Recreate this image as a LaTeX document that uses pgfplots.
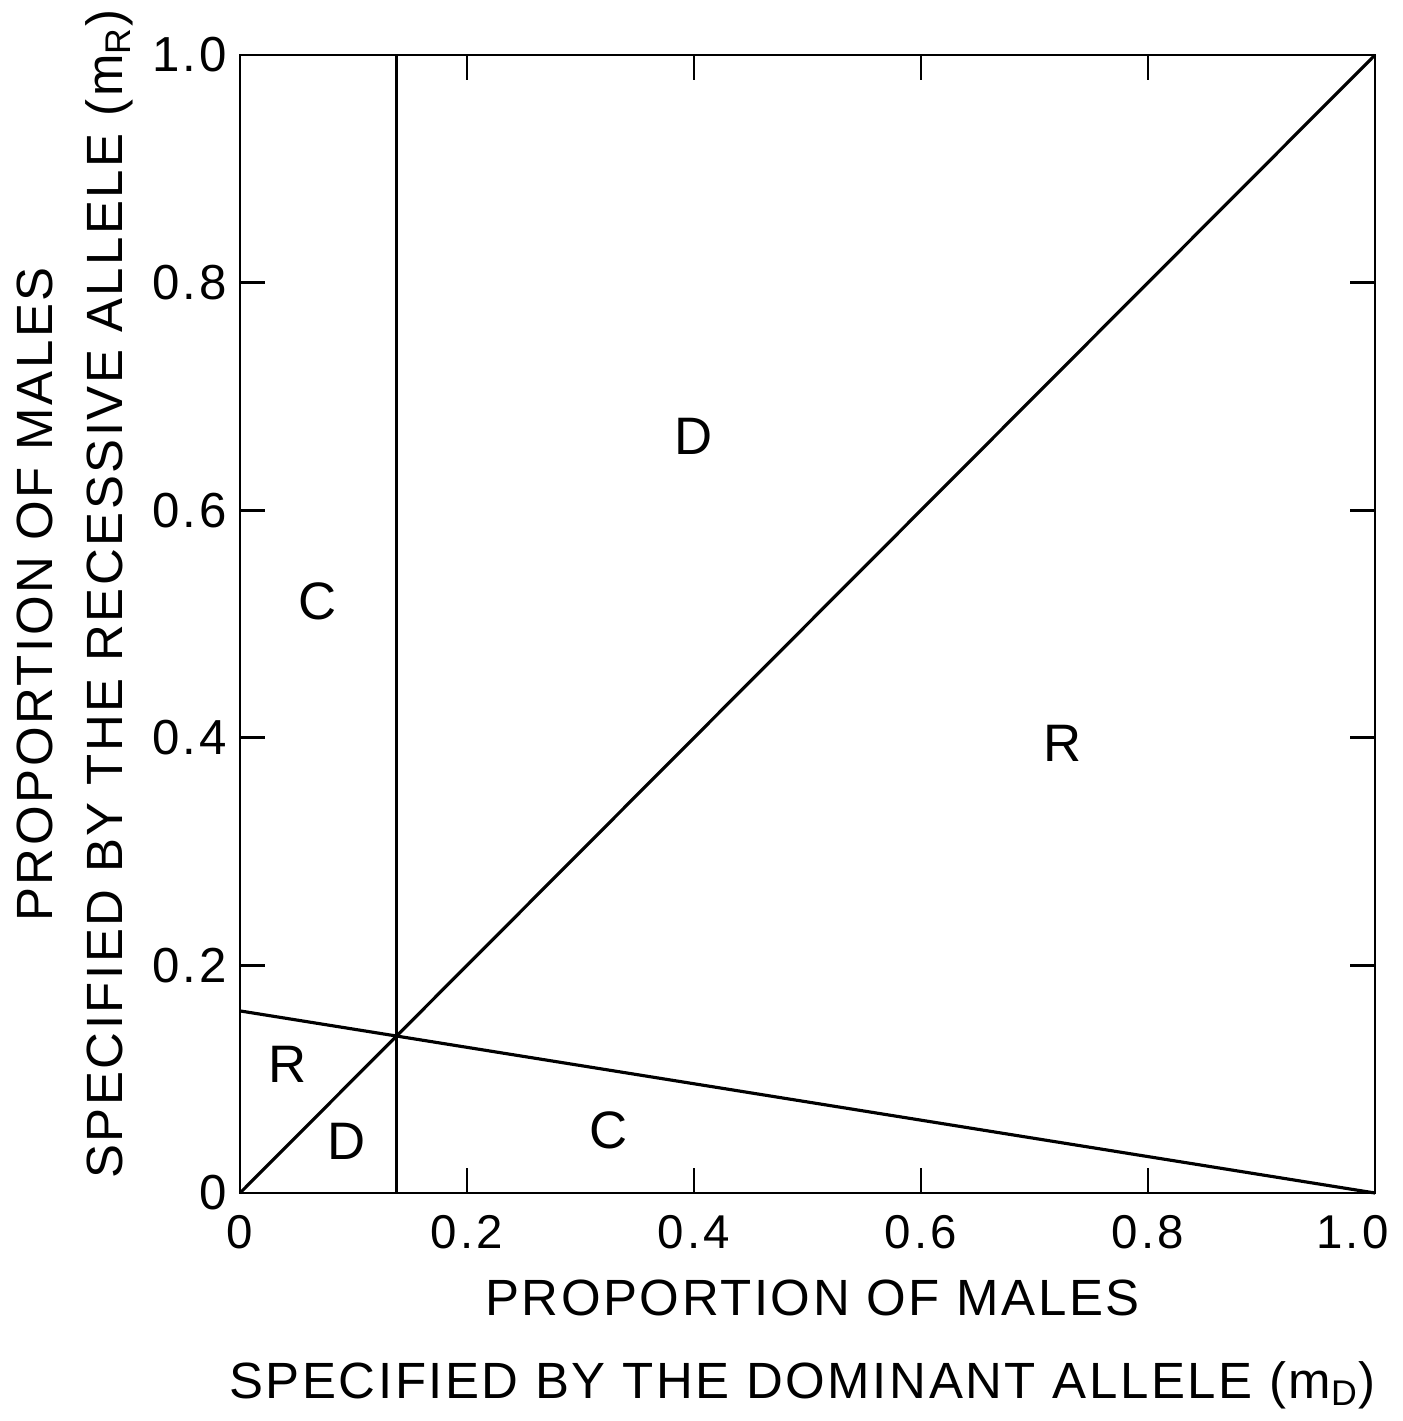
\documentclass[border=0pt]{standalone}
\usepackage{fontspec}
\setmainfont{Liberation Sans}[LetterSpace=5]
\newfontfamily\tickfont{Liberation Sans}[LetterSpace=7]
\usepackage{pgfplots}
\pgfplotsset{compat=1.18}

\begin{document}
\fontsize{14.5}{17}\selectfont
\begin{tikzpicture}
\begin{axis}[
    name=ax,
    width=11.35cm, height=11.38cm,
    scale only axis,
    xmin=0, xmax=1, ymin=0, ymax=1,
    xtick={0,0.2,0.4,0.6,0.8,1},
    ytick={0,0.2,0.4,0.6,0.8,1},
    xticklabels={0,0.2,0.4,0.6,0.8,1.0\rule{0.45cm}{0pt}},
    yticklabels={0,0.2,0.4,0.6,0.8,1.0},
    tick align=inside,
    major tick length=0.25cm,
    tick style={line width=0.8pt, black},
    axis line style={line width=0.8pt},
    /pgf/number format/assume math mode=true,
    xticklabel style={font=\tickfont\fontsize{13.5}{16}\selectfont, anchor=center, yshift=-0.39cm},
    yticklabel style={font=\tickfont\fontsize{14}{17}\selectfont, anchor=east, xshift=0.05cm},
    clip=false,
]
% dividing lines
\addplot[black, line width=0.9pt] coordinates {(0,0) (1,1)};
\addplot[black, line width=0.9pt] coordinates {(0,0.16) (1,0)};
\addplot[black, line width=0.9pt] coordinates {(0.138,0) (0.138,1)};

% region labels
\node[font=\fontsize{15}{18}\selectfont] at (axis cs:0.40,0.665) {D};
\node[font=\fontsize{15}{18}\selectfont] at (axis cs:0.068,0.52) {C};
\node[font=\fontsize{15}{18}\selectfont] at (axis cs:0.725,0.395) {R};
\node[font=\fontsize{15}{18}\selectfont] at (axis cs:0.042,0.113) {R};
\node[font=\fontsize{15}{18}\selectfont] at (axis cs:0.094,0.045) {D};
\node[font=\fontsize{15}{18}\selectfont] at (axis cs:0.325,0.055) {C};

% axis labels
\node[anchor=base] at ([yshift=-1.22cm, xshift=0.05cm]rel axis cs:0.5,0) {PROPORTION OF MALES};
\node[anchor=base] at ([yshift=-2.05cm, xshift=-0.05cm]rel axis cs:0.5,0) {SPECIFIED BY THE DOMINANT ALLELE (m$_\mathrm{D}$)};
\node[rotate=90, anchor=base] at ([xshift=-1.87cm]rel axis cs:0,0.526) {PROPORTION OF MALES};
\node[rotate=90, anchor=base] at ([xshift=-1.17cm]rel axis cs:0,0.526) {SPECIFIED BY THE RECESSIVE ALLELE (m$_\mathrm{R}$)};
\end{axis}
\pgfresetboundingbox
\path (ax.south west) ++(-2.40cm,-2.28cm) coordinate (bl);
\path (ax.north east) ++(0.27cm,0.55cm) coordinate (tr);
\useasboundingbox (bl) rectangle (tr);
\end{tikzpicture}
\end{document}
